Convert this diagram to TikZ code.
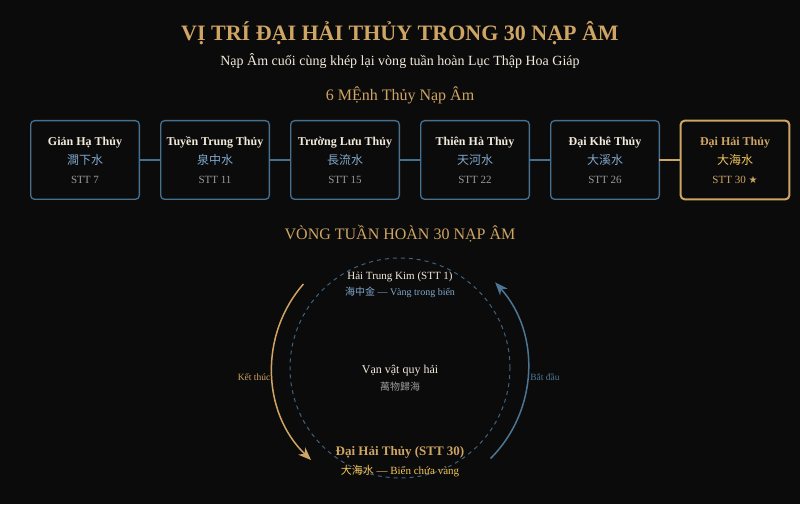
\documentclass[tikz,border=0pt]{standalone}
\usepackage{fontspec}
\usepackage{xcolor}
\setmainfont{Liberation Serif}
\newfontfamily\cjk{Noto Sans CJK TC}
\newfontfamily\symb{DejaVu Sans}
\usetikzlibrary{positioning,arrows.meta,calc}
\definecolor{bg}{HTML}{0B0B0B}
\definecolor{gold}{HTML}{CFA563}
\definecolor{cream}{HTML}{F2EADA}
\definecolor{steel}{HTML}{46708E}
\definecolor{sky}{HTML}{7FA8CC}
\definecolor{ash}{HTML}{9A9A9A}
\definecolor{amber}{HTML}{F2C45A}
\definecolor{ringc}{HTML}{3E6280}
\tikzset{
	menh/.style={draw=steel, line width=1.3pt, outer sep=0pt, rounded corners=4pt, minimum width=108.7pt, minimum height=78.7pt, align=center, font=\fontsize{12}{19}\selectfont, text=cream},
	chinh/.style={menh, draw=gold, line width=2pt},
	noi/.style={steel, line width=1.5pt},
	nhan/.style={align=center, inner sep=1pt},
	muiten/.style={-{Stealth[length=13pt, width=10pt, inset=4pt]}},
}
\begin{document}
\begin{tikzpicture}[x=1pt, y=1pt]
	\fill[bg] (0,0) rectangle (800,504);
	\useasboundingbox (0,0) rectangle (800,504);
	\node (tieude) [nhan, text=gold, font=\fontsize{22}{26}\selectfont\bfseries] at (400,471) {VỊ TRÍ ĐẠI HẢI THỦY TRONG 30 NẠP ÂM};
	\node (phude) [nhan, text=cream, font=\fontsize{14}{16}\selectfont, below=6pt of tieude] {Nạp Âm cuối cùng khép lại vòng tuần hoàn Lục Thập Hoa Giáp};
	\node (nhom) [nhan, text=gold, font=\fontsize{16}{18}\selectfont] at (400,409) {6 MỆnh Thủy Nạp Âm};
	\node (m1) [menh] at (85,344) {{\bfseries Giản Hạ Thủy}\\{\cjk\color{sky}澗下水}\\{\fontsize{11}{19}\selectfont\color{ash}STT 7}};
	\node (m2) [menh, right=21.3pt of m1] {{\bfseries Tuyền Trung Thủy}\\{\cjk\color{sky}泉中水}\\{\fontsize{11}{19}\selectfont\color{ash}STT 11}};
	\node (m3) [menh, right=21.3pt of m2] {{\bfseries Trường Lưu Thủy}\\{\cjk\color{sky}長流水}\\{\fontsize{11}{19}\selectfont\color{ash}STT 15}};
	\node (m4) [menh, right=21.3pt of m3] {{\bfseries Thiên Hà Thủy}\\{\cjk\color{sky}天河水}\\{\fontsize{11}{19}\selectfont\color{ash}STT 22}};
	\node (m5) [menh, right=21.3pt of m4] {{\bfseries Đại Khê Thủy}\\{\cjk\color{sky}大溪水}\\{\fontsize{11}{19}\selectfont\color{ash}STT 26}};
	\node (m6) [chinh, right=21.3pt of m5] {{\bfseries\color{gold}Đại Hải Thủy}\\{\cjk\color{amber}大海水}\\{\fontsize{11}{19}\selectfont\color{gold}STT 30 {\symb\fontsize{10}{19}\selectfont ★}}};
	\draw[noi] (m1) -- (m2);
	\draw[noi] (m2) -- (m3);
	\draw[noi] (m3) -- (m4);
	\draw[noi] (m4) -- (m5);
	\draw[noi, gold] (m5) -- (m6);
	\node (vong) [nhan, text=gold, font=\fontsize{16}{18}\selectfont] at (400,270) {VÒNG TUẦN HOÀN 30 NẠP ÂM};
	\node (ring) [circle, draw=ringc, line width=1pt, dash pattern=on 4pt off 4pt, minimum size=220pt, inner sep=0pt] at (400,136) {};
	\node (dau) [nhan, text=cream, font=\fontsize{11}{13}\selectfont] at (400,227) {Hải Trung Kim (STT 1)};
	\node (dau2) [nhan, text=sky, font=\fontsize{10}{12}\selectfont, below=3pt of dau] {{\cjk 海中金} — Vàng trong biển};
	\node (giua) [nhan, text=cream, font=\fontsize{12}{14}\selectfont] at (400,133) {Vạn vật quy hải};
	\node (giua2) [nhan, text=ash, font=\fontsize{10}{12}\selectfont\cjk, below=3pt of giua] {萬物歸海};
	\node (cuoi) [nhan, text=gold, font=\fontsize{13}{15}\selectfont\bfseries] at (400,52) {Đại Hải Thủy (STT 30)};
	\node (cuoi2) [nhan, text=amber, font=\fontsize{11}{13}\selectfont, below=5pt of cuoi] {{\cjk 大海水} — Biển chứa vàng};
	\coordinate (g1) at ($(ring.center)+(139:128)$);
	\coordinate (b1) at ($(ring.center)+(-45:128)$);
	\draw[gold, line width=1.5pt, muiten] (g1) arc[start angle=139, end angle=226, radius=128];
	\draw[steel!90!sky, line width=1.5pt, muiten] (b1) arc[start angle=-45, end angle=42, radius=128];
	\node (ketthuc) [nhan, text=gold, font=\fontsize{9.5}{11}\selectfont] at (254,127) {Kết thúc};
	\node (batdau) [nhan, text=steel!90!sky, font=\fontsize{9.5}{11}\selectfont] at (545,127) {Bắt đầu};
\end{tikzpicture}
\end{document}
